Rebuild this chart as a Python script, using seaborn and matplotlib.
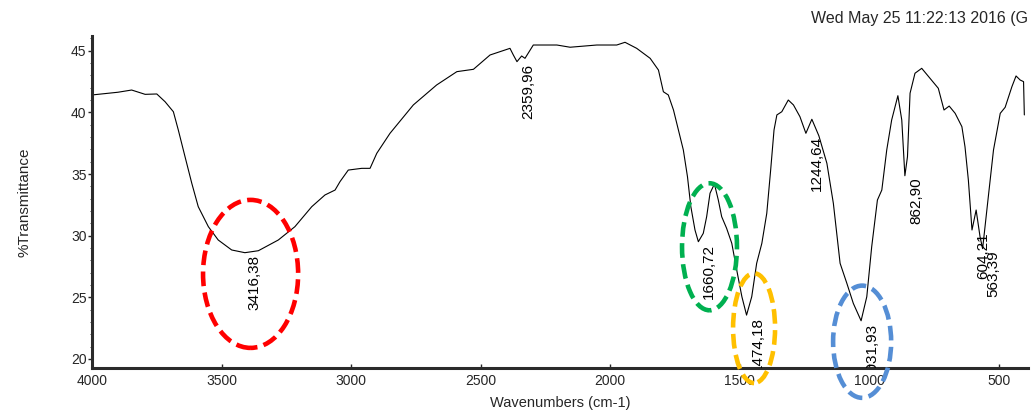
import matplotlib
matplotlib.use("Agg")
import matplotlib.pyplot as plt
from matplotlib.patches import Ellipse
from matplotlib.ticker import MultipleLocator
import seaborn as sns
import pandas as pd

# FTIR spectrum
wavenumber = [4000, 3900, 3847, 3795, 3750, 3718, 3686, 3667, 3641, 3615,
              3590, 3551, 3513, 3461, 3410, 3358, 3281, 3217, 3152, 3101,
              3062, 3043, 3011, 2959, 2927, 2901, 2850, 2760, 2670, 2592,
              2528, 2464, 2387, 2374, 2360, 2342, 2329, 2297, 2206, 2155,
              2052, 1975, 1943, 1898, 1846, 1814, 1795, 1776, 1756, 1737,
              1718, 1702, 1689, 1673, 1660, 1641, 1628, 1615, 1598, 1583,
              1570, 1551, 1531, 1512, 1492, 1474, 1454, 1435, 1415, 1396,
              1381, 1368, 1357, 1338, 1313, 1293, 1268, 1245, 1222, 1195,
              1164, 1139, 1113, 1087, 1062, 1032, 1010, 991, 969, 952,
              933, 914, 890, 875, 863, 853, 843, 824, 798, 766,
              734, 712, 692, 669, 643, 631, 618, 604, 588, 573,
              563, 541, 521, 495, 476, 450, 434, 418, 405, 402]
transmittance = [41.41, 41.63, 41.81, 41.46, 41.49, 40.86, 40.05, 38.57, 36.40, 34.25,
                 32.35, 30.73, 29.65, 28.84, 28.62, 28.78, 29.65, 30.73, 32.35, 33.30,
                 33.70, 34.38, 35.32, 35.46, 35.46, 36.68, 38.30, 40.60, 42.22, 43.30,
                 43.49, 44.65, 45.19, 44.65, 44.11, 44.57, 44.38, 45.46, 45.46, 45.28,
                 45.46, 45.46, 45.68, 45.19, 44.38, 43.43, 41.67, 41.41, 40.19, 38.57,
                 36.95, 34.78, 32.35, 30.46, 29.51, 30.19, 31.54, 33.44, 34.19, 32.89,
                 31.54, 30.60, 29.38, 27.22, 25.05, 23.56, 25.05, 27.76, 29.38, 31.81,
                 35.32, 38.57, 39.79, 40.05, 41.00, 40.60, 39.65, 38.30, 39.44, 38.10,
                 35.87, 32.62, 27.76, 26.14, 24.51, 23.10, 25.05, 29.11, 32.89, 33.70,
                 36.95, 39.38, 41.35, 39.38, 34.86, 36.40, 41.55, 43.17, 43.57, 42.76,
                 41.95, 40.19, 40.51, 39.92, 38.84, 37.21, 34.51, 30.46, 32.08, 29.92,
                 28.95, 33.16, 36.95, 39.92, 40.41, 42.08, 42.95, 42.62, 42.49, 39.79]

# labelled peaks
peak_wn = [3416.38, 2359.96, 1660.72, 1474.18, 1244.64, 1031.93, 862.90, 604.21, 563.39]
peak_t = [28.62, 44.11, 29.51, 23.56, 38.30, 23.10, 34.86, 30.46, 28.95]
peak_labels = ["3416,38", "2359,96", "1660,72", "1474,18", "1244,64",
               "1031,93", "862,90", "604,21", "563,39"]

# highlighted bands (centre wn, centre %T, width, height, colour)
ring_wn = [3388, 1617, 1445, 1028]
ring_t = [26.9, 29.1, 22.5, 21.4]
ring_w = [367, 212, 162, 224]
ring_h = [12.0, 10.3, 8.9, 9.1]
ring_colors = ["#FF0000", "#00B050", "#FFC000", "#558ED5"]

sns.set_style("ticks")
plt.rcParams["font.family"] = ["Liberation Sans", "DejaVu Sans"]

df = pd.DataFrame({"Wavenumber": wavenumber, "T": transmittance})

fig = plt.figure(figsize=(10.35, 4.12), dpi=100)
ax = fig.add_axes([0.0889, 0.1068, 0.9043, 0.8058])
sns.lineplot(data=df, x="Wavenumber", y="T", color="black", linewidth=0.8,
             sort=False, ax=ax)

ax.set_xlim(4000, 388)
ax.set_ylim(19.27, 46.19)
ax.set_xticks([4000, 3500, 3000, 2500, 2000, 1500, 1000, 500])
ax.set_yticks([20, 25, 30, 35, 40, 45])
ax.yaxis.set_minor_locator(MultipleLocator(1))
ax.tick_params(axis="y", which="major", direction="out", length=3, width=1, labelsize=10, pad=1)
ax.tick_params(axis="y", which="minor", direction="out", length=1.5, width=0.6)
ax.tick_params(axis="x", direction="in", length=3, width=1, labelsize=10, pad=4)

for side in ["top", "right"]:
    ax.spines[side].set_visible(False)
for side in ["left", "bottom"]:
    ax.spines[side].set_linewidth(2.2)
    ax.spines[side].set_color("#2b2b2b")

ax.set_xlabel("Wavenumbers (cm-1)", fontsize=10.5, labelpad=6)
ax.set_ylabel("%Transmittance", fontsize=11, labelpad=28)

# peak labels are clipped by the plot frame, as in the instrument printout
for wn, t, lab in zip(peak_wn, peak_t, peak_labels):
    ax.annotate(lab, xy=(wn, t), xytext=(3, -1.5), textcoords="offset points",
                rotation=90, ha="left", va="top", fontsize=11, color="black",
                clip_on=True)

for cx, cy, w, h, c in zip(ring_wn, ring_t, ring_w, ring_h, ring_colors):
    ax.add_patch(Ellipse((cx, cy), w, h, fill=False, edgecolor=c, linewidth=3.3,
                         linestyle=(0, (3.2, 1.4)), clip_on=False, zorder=5))

fig.text(811 / 1035, 1 - 18 / 412, "Wed May 25 11:22:13 2016 (G",
         ha="left", va="center", fontsize=11.5)

fig.savefig("out.png", dpi=100)
